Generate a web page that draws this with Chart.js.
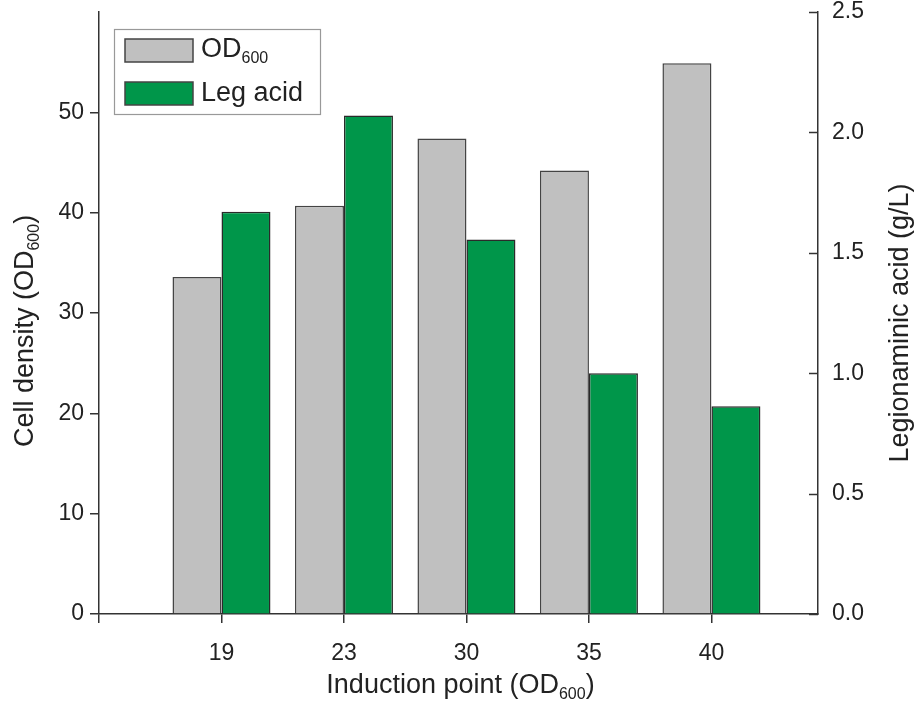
<!DOCTYPE html>
<html>
<head>
<meta charset="utf-8">
<script src="https://cdn.jsdelivr.net/npm/chart.js@4"></script>
<style>
  html, body { margin: 0; padding: 0; background: #fff; }
  #wrap { width: 919px; height: 705px; }
</style>
</head>
<body>
<div id="wrap"><canvas id="chart" width="919" height="705"></canvas></div>
<script>
const categories = ['19', '23', '30', '35', '40'];
const od600 = [33.6, 40.7, 47.4, 44.2, 54.9];
const legAcid = [1.67, 2.07, 1.555, 1.0, 0.863];
const leftTicks = [0, 10, 20, 30, 40, 50];
const rightTicks = [0, 0.5, 1.0, 1.5, 2.0, 2.5];

const FONT = '"Liberation Sans", Arial, sans-serif';
const INK = '#222';
const AXIS = '#333';

// draw "main" + subscript + "after" starting at x (left aligned, middle baseline)
function drawSub(c, x, y, main, sub, after, size) {
    c.font = size + 'px ' + FONT;
    c.textBaseline = 'middle';
    c.textAlign = 'left';
    c.fillText(main, x, y);
    let w = c.measureText(main).width;
    c.font = Math.round(size * 0.6) + 'px ' + FONT;
    c.fillText(sub, x + w, y + size * 0.33);
    w += c.measureText(sub).width;
    c.font = size + 'px ' + FONT;
    c.fillText(after, x + w, y);
    return w + c.measureText(after).width;
}

function subWidth(c, main, sub, after, size) {
    c.font = size + 'px ' + FONT;
    let w = c.measureText(main).width + c.measureText(after).width;
    c.font = Math.round(size * 0.6) + 'px ' + FONT;
    return w + c.measureText(sub).width;
}

const extras = {
    id: 'extras',
    afterDraw(chart) {
        const c = chart.ctx;
        const a = chart.chartArea;
        const y2 = chart.scales.y2;
        c.save();

        // right axis ticks pointing inward
        c.strokeStyle = AXIS;
        c.lineWidth = 1.5;
        rightTicks.forEach(v => {
            const py = Math.round(y2.getPixelForValue(v)) + 0.5;
            c.beginPath();
            c.moveTo(a.right - 9, py);
            c.lineTo(a.right, py);
            c.stroke();
        });

        c.fillStyle = INK;
        const ts = 27;

        // x title
        let w = subWidth(c, 'Induction point (OD', '600', ')', ts);
        drawSub(c, (a.left + a.right) / 2 - w / 2 + 2, 686, 'Induction point (OD', '600', ')', ts);

        // left title
        c.save();
        c.translate(26, (a.top + a.bottom) / 2 + 18);
        c.rotate(-Math.PI / 2);
        w = subWidth(c, 'Cell density (OD', '600', ')', ts);
        drawSub(c, -w / 2, 0, 'Cell density (OD', '600', ')', ts);
        c.restore();

        // right title
        c.save();
        c.translate(901, (a.top + a.bottom) / 2 + 10);
        c.rotate(-Math.PI / 2);
        c.font = ts + 'px ' + FONT;
        c.textAlign = 'center';
        c.textBaseline = 'middle';
        c.fillText('Legionaminic acid (g/L)', 0, 0);
        c.restore();

        // legend
        const lx = a.left + 15, ly = a.top + 17;
        c.strokeStyle = '#999';
        c.lineWidth = 1.2;
        c.strokeRect(lx + 0.5, ly + 0.5, 206, 85);
        const ds = chart.data.datasets;
        const rows = [ly + 10, ly + 53];
        ds.forEach((d, i) => {
            c.fillStyle = d.backgroundColor;
            c.fillRect(lx + 11, rows[i], 68, 23);
            c.strokeStyle = '#444';
            c.lineWidth = 1.5;
            c.strokeRect(lx + 11, rows[i], 68, 23);
            c.fillStyle = INK;
            if (i === 0) {
                drawSub(c, lx + 87, rows[i] + 11, 'OD', '600', '', ts);
            } else {
                c.font = ts + 'px ' + FONT;
                c.textBaseline = 'middle';
                c.textAlign = 'left';
                c.fillText(d.label, lx + 87, rows[i] + 12);
            }
        });
        c.restore();
    }
};

const noPad = s => { s.paddingTop = 0; s.paddingBottom = 0; s.paddingLeft = 0; s.paddingRight = 0; };

new Chart(document.getElementById('chart'), {
    type: 'bar',
    data: {
        datasets: [{
            label: 'OD600',
            data: od600.map((v, i) => ({ x: i + 1, y: v })),
            backgroundColor: '#c0c0c0',
            borderColor: '#444',
            borderWidth: 1.5,
            yAxisID: 'y'
        }, {
            label: 'Leg acid',
            data: legAcid.map((v, i) => ({ x: i + 1, y: v })),
            backgroundColor: '#00964a',
            borderColor: '#2a2a2a',
            borderWidth: 1.5,
            yAxisID: 'y2'
        }]
    },
    options: {
        responsive: false,
        animation: false,
        categoryPercentage: 0.8,
        barPercentage: 1.0,
        layout: { padding: { top: 12, left: 0, right: 0, bottom: 0 } },
        plugins: { legend: { display: false }, tooltip: { enabled: false } },
        scales: {
            x: {
                type: 'linear',
                offset: false,
                min: 0,
                max: 5.87,
                afterBuildTicks: s => { s.ticks = [0].concat(categories.map((c, i) => i + 1)).map(v => ({ value: v })); },
                afterFit: s => { s.height = 91; noPad(s); },
                ticks: {
                    callback: v => categories[v - 1] || '',
                    color: INK,
                    font: { family: FONT, size: 23 },
                    padding: 17,
                    maxRotation: 0,
                    autoSkip: false
                },
                grid: { offset: false, drawOnChartArea: false, tickLength: 9, color: AXIS, lineWidth: 1.5 },
                border: { color: AXIS, width: 1.5 }
            },
            y: {
                position: 'left',
                min: 0,
                max: 60,
                afterBuildTicks: s => { s.ticks = leftTicks.map(v => ({ value: v })); },
                afterFit: s => { s.width = 99; noPad(s); },
                ticks: {
                    color: INK,
                    font: { family: FONT, size: 23 },
                    padding: 6
                },
                grid: { drawOnChartArea: false, tickLength: 9, color: AXIS, lineWidth: 1.5 },
                border: { color: AXIS, width: 1.5 }
            },
            y2: {
                position: 'right',
                min: 0,
                max: 2.5,
                afterBuildTicks: s => { s.ticks = rightTicks.map(v => ({ value: v })); },
                afterFit: s => { s.width = 101; noPad(s); },
                ticks: {
                    callback: v => v.toFixed(1),
                    color: INK,
                    font: { family: FONT, size: 23 },
                    padding: 14
                },
                grid: { drawOnChartArea: false, drawTicks: false },
                border: { color: AXIS, width: 1.5 }
            }
        }
    },
    plugins: [extras]
});
</script>
</body>
</html>
